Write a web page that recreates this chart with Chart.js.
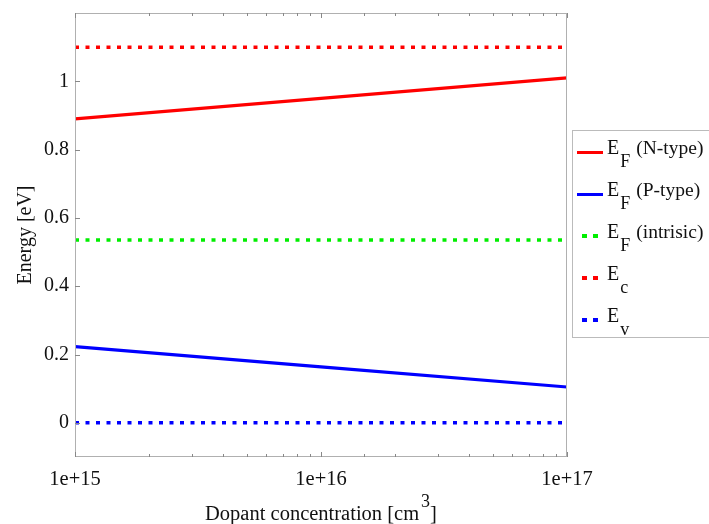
<!DOCTYPE html>
<html>
<head>
<meta charset="utf-8">
<script src="https://cdn.jsdelivr.net/npm/chart.js@4"></script>
<style>
  html, body { margin: 0; padding: 0; background: #fff; }
  #wrap { position: relative; width: 709px; height: 524px; overflow: hidden; }
  #legend {
    position: absolute; left: 572px; top: 130px; width: 160px; height: 208px;
    border: 1px solid #bbb; box-sizing: border-box;
    font-family: "Liberation Serif", "DejaVu Serif", serif; color: #111;
  }
  .item { position: absolute; left: 0; height: 0; white-space: nowrap; }
  .swatch { position: absolute; top: -1.5px; height: 3px; }
  .txt { position: absolute; left: 34px; top: -15px; font-size: 20px; line-height: 20px; }
  .txt sub { font-size: 18px; position: relative; top: 13px; vertical-align: baseline; margin-left: 1px; }
  .txt .note { font-size: 19.5px; margin-left: 6px; }
  #xtitle {
    position: absolute; left: 75px; width: 492px; top: 503px; text-align: center;
    font-family: "Liberation Serif", "DejaVu Serif", serif; font-size: 20.5px;
    line-height: 20px; color: #111; white-space: nowrap;
  }
  #xtitle sup { font-size: 18px; line-height: 0; vertical-align: baseline; position: relative; top: -13px; margin-left: 2px; }
</style>
</head>
<body>
<div id="wrap">
  <canvas id="chart" width="709" height="524"></canvas>
  <div id="xtitle">Dopant concentration [cm<sup>3</sup>]</div>
  <div id="legend"></div>
</div>
<script>
// data
const concentrations = [1e15, 1e16, 1e17];
const efNType = [0.89, 0.95, 1.01];
const efPType = [0.223, 0.164, 0.105];
const efIntrinsic = [0.535, 0.535, 0.535];
const ecBand = [1.1, 1.1, 1.1];
const evBand = [0, 0, 0];
const yTickValues = [0, 0.2, 0.4, 0.6, 0.8, 1];

const seriesNames = [
  { sym: 'E', sub: 'F', note: '(N-type)' },
  { sym: 'E', sub: 'F', note: '(P-type)' },
  { sym: 'E', sub: 'F', note: '(intrisic)' },
  { sym: 'E', sub: 'c', note: '' },
  { sym: 'E', sub: 'v', note: '' }
];
const seriesValues = [efNType, efPType, efIntrinsic, ecBand, evBand];
const seriesColors = ['#ff0000', '#0000ff', '#00ee00', '#ff0000', '#0000ff'];
const seriesDotted = [false, false, true, true, true];

function toPoints(vals) {
  return concentrations.map((c, i) => ({ x: c, y: vals[i] }));
}

const datasets = seriesValues.map((vals, i) => ({
  label: seriesNames[i].sym + seriesNames[i].sub + ' ' + seriesNames[i].note,
  data: toPoints(vals),
  borderColor: seriesColors[i],
  borderWidth: seriesDotted[i] ? 3.5 : 3.2,
  borderDash: seriesDotted[i] ? [4, 6.5] : [],
  borderCapStyle: 'butt',
  pointRadius: 0,
  fill: false,
  tension: 0
}));

// box round the plot and ticks pointing inward
const innerTicks = {
  id: 'innerTicks',
  afterDraw(chart) {
    const { ctx, chartArea: a, scales } = chart;
    ctx.save();
    ctx.strokeStyle = '#b0b0b0';
    ctx.lineWidth = 1;
    ctx.strokeRect(a.left + 0.5, a.top + 0.5, a.right - a.left - 1, a.bottom - a.top - 1);
    ctx.strokeStyle = '#888';
    scales.x.ticks.forEach(t => {
      const px = Math.round(scales.x.getPixelForValue(t.value)) + 0.5;
      const major = Math.abs(Math.log10(t.value) % 1) < 1e-9;
      const len = major ? 5 : 3;
      ctx.beginPath();
      ctx.moveTo(px, a.bottom); ctx.lineTo(px, a.bottom - len);
      ctx.moveTo(px, a.top); ctx.lineTo(px, a.top + len);
      ctx.stroke();
    });
    yTickValues.forEach(v => {
      const py = Math.round(scales.y.getPixelForValue(v)) + 0.5;
      ctx.beginPath();
      ctx.moveTo(a.left, py); ctx.lineTo(a.left + 5, py);
      ctx.stroke();
    });
    ctx.restore();
  }
};

const serif = '"Liberation Serif", "DejaVu Serif", serif';

new Chart(document.getElementById('chart'), {
  type: 'line',
  data: { datasets },
  options: {
    responsive: false,
    animation: false,
    layout: { padding: { top: 13, right: 142, left: 0, bottom: 0 } },
    plugins: { legend: { display: false }, tooltip: { enabled: false } },
    scales: {
      x: {
        type: 'logarithmic',
        min: 1e15,
        max: 1e17,
        grid: { display: false, drawTicks: false },
        border: { display: false },
        afterFit(s) { s.height = 67; s.paddingLeft = 0; s.paddingRight = 0; },
        ticks: {
          autoSkip: false,
          maxRotation: 0,
          padding: 10,
          color: '#111',
          font: { family: serif, size: 20.5 },
          callback(v) {
            const e = Math.log10(v);
            return Math.abs(e - Math.round(e)) < 1e-9 ? '1e+' + Math.round(e) : '';
          }
        }
      },
      y: {
        min: -0.1,
        max: 1.2,
        grid: { display: false, drawTicks: false },
        border: { display: false },
        afterFit(s) { s.width = 75; s.paddingTop = 0; s.paddingBottom = 0; },
        afterBuildTicks(s) { s.ticks = yTickValues.map(v => ({ value: v })); },
        ticks: {
          padding: 6,
          color: '#111',
          font: { family: serif, size: 20 },
          callback: v => String(v)
        },
        title: {
          display: true,
          text: 'Energy [eV]',
          color: '#111',
          font: { family: serif, size: 20 },
          padding: { top: 14, bottom: 0 }
        }
      }
    }
  },
  plugins: [innerTicks]
});

// legend with subscripts, built from the same series lists
const legendRowTop = [21, 63, 105, 147, 189];
const legend = document.getElementById('legend');
seriesNames.forEach((n, i) => {
  const item = document.createElement('div');
  item.className = 'item';
  item.style.top = legendRowTop[i] + 'px';
  const sw = document.createElement('div');
  sw.className = 'swatch';
  if (seriesDotted[i]) {
    sw.style.left = '9px'; sw.style.width = '17px'; sw.style.height = '4px'; sw.style.top = '-2px';
    sw.style.background = 'repeating-linear-gradient(to right,' + seriesColors[i] +
      ' 0 5px, transparent 5px 11px)';
  } else {
    sw.style.left = '4px'; sw.style.width = '26px';
    sw.style.background = seriesColors[i];
  }
  const txt = document.createElement('div');
  txt.className = 'txt';
  txt.innerHTML = n.sym + '<sub>' + n.sub + '</sub>' +
    (n.note ? '<span class="note">' + n.note + '</span>' : '');
  item.appendChild(sw);
  item.appendChild(txt);
  legend.appendChild(item);
});
</script>
</body>
</html>
